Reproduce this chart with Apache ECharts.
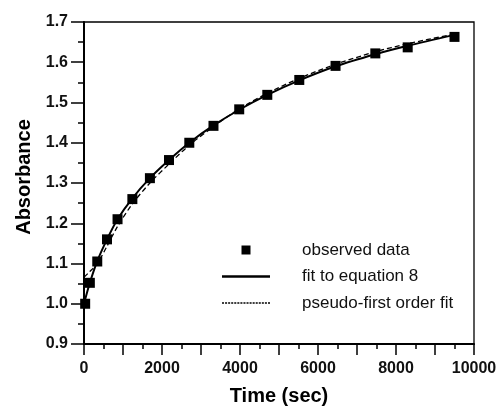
<!DOCTYPE html>
<html>
<head>
<meta charset="utf-8">
<script src="https://cdn.jsdelivr.net/npm/echarts@6/dist/echarts.min.js"></script>
<style>
  html, body { margin: 0; padding: 0; background: #fff; }
  #absorbanceChart { width: 501px; height: 408px; }
</style>
</head>
<body>
<div id="absorbanceChart"></div>
<script>
// observed points (time in sec, absorbance)
var obsTime = [30, 150, 340, 590, 860, 1240, 1690, 2180, 2700, 3320, 3980, 4700, 5520, 6450, 7470, 8300, 9500];
var obsAbs  = [1.000, 1.052, 1.105, 1.160, 1.210, 1.260, 1.312, 1.357, 1.400, 1.442, 1.483, 1.519, 1.556, 1.591, 1.622, 1.637, 1.663];

// fitted curves
var fitTime     = [0, 150, 340, 590, 860, 1240, 1690, 2180, 2700, 3320, 3980, 4700, 5520, 6450, 7470, 8300, 9500];
var fitEq8      = [1.000, 1.052, 1.106, 1.160, 1.210, 1.262, 1.312, 1.357, 1.400, 1.443, 1.482, 1.519, 1.555, 1.590, 1.620, 1.641, 1.668];
var fitPseudo   = [1.066, 1.080, 1.100, 1.143, 1.192, 1.248, 1.300, 1.347, 1.394, 1.440, 1.484, 1.523, 1.560, 1.595, 1.626, 1.646, 1.670];

var seriesNames = ['observed data', 'fit to equation 8', 'pseudo-first order fit'];

var pairs = function(xs, ys){
	var out = [];
	for (var i = 0; i < xs.length; i++) {
		out.push([xs[i], ys[i]]);
	}
	return out;
};

// legend icons drawn as paths so no marker shows on the line samples
var solidIcon = 'path://M0,0h48v2.5h-48z';
var dottedIcon = (function(){
	var p = 'path://';
	for (var x = 0; x < 48; x += 3) {
		p += 'M' + x + ',0h2v1.3h-2z';
	}
	return p;
})();

var chart = echarts.init(document.getElementById('absorbanceChart'));

chart.setOption({
	animation: false,
	textStyle: { fontFamily: 'Liberation Sans, Arial, sans-serif' },
	grid: {
		left: 84, right: 27, top: 22, bottom: 64,
		outerBoundsMode: 'none',
		show: true,
		borderColor: '#000',
		borderWidth: 1.3
	},
	legend: {
		orient: 'vertical',
		left: 217,
		top: 236,
		itemWidth: 48,
		itemHeight: 9,
		itemGap: 8.5,
		textStyle: { fontSize: 17, color: '#111', lineHeight: 18, padding: [0, 0, 0, 27] },
		data: [
			{ name: seriesNames[0], icon: 'path://M0,0h10v10h-10z' },
			{ name: seriesNames[1], icon: solidIcon },
			{ name: seriesNames[2], icon: dottedIcon }
		]
	},
	xAxis: {
		type: 'value',
		min: 0,
		max: 10000,
		interval: 1000,
		name: 'Time (sec)',
		nameLocation: 'middle',
		nameGap: 42,
		nameTextStyle: { fontSize: 20, fontWeight: 'bold', color: '#000' },
		axisLine: { lineStyle: { color: '#000', width: 2 } },
		axisTick: { inside: false, length: 11, lineStyle: { color: '#000', width: 1.5 } },
		minorTick: { show: true, splitNumber: 2, length: 5, lineStyle: { color: '#000', width: 1.5 } },
		axisLabel: {
			fontSize: 16, fontWeight: 'bold', color: '#111', margin: 17,
			formatter: function(v){ return v % 2000 === 0 ? String(v) : ''; }
		},
		splitLine: { show: false }
	},
	yAxis: {
		type: 'value',
		min: 0.9,
		max: 1.7,
		interval: 0.1,
		name: 'Absorbance',
		nameLocation: 'middle',
		nameGap: 50,
		nameTextStyle: { fontSize: 20, fontWeight: 'bold', color: '#000', padding: [0, 0, 0, 12] },
		axisLine: { lineStyle: { color: '#000', width: 2 } },
		axisTick: { inside: false, length: 13, lineStyle: { color: '#000', width: 1.5 } },
		minorTick: { show: true, splitNumber: 2, length: 6, lineStyle: { color: '#000', width: 1.5 } },
		axisLabel: {
			fontSize: 16, fontWeight: 'bold', color: '#111', margin: 16,
			formatter: function(v){ return v.toFixed(1); }
		},
		splitLine: { show: false }
	},
	series: [
		{
			name: seriesNames[0],
			type: 'scatter',
			symbol: 'rect',
			symbolSize: 10,
			itemStyle: { color: '#000', opacity: 1 },
			z: 5,
			data: pairs(obsTime, obsAbs)
		},
		{
			name: seriesNames[1],
			type: 'line',
			smooth: 0.3,
			showSymbol: false,
			symbol: 'none',
			itemStyle: { color: '#000' },
			lineStyle: { color: '#000', width: 2 },
			data: pairs(fitTime, fitEq8)
		},
		{
			name: seriesNames[2],
			type: 'line',
			smooth: 0.3,
			showSymbol: false,
			symbol: 'none',
			itemStyle: { color: '#000' },
			lineStyle: { color: '#000', width: 1.3, type: [5, 3] },
			data: pairs(fitTime, fitPseudo)
		}
	]
});
</script>
</body>
</html>
